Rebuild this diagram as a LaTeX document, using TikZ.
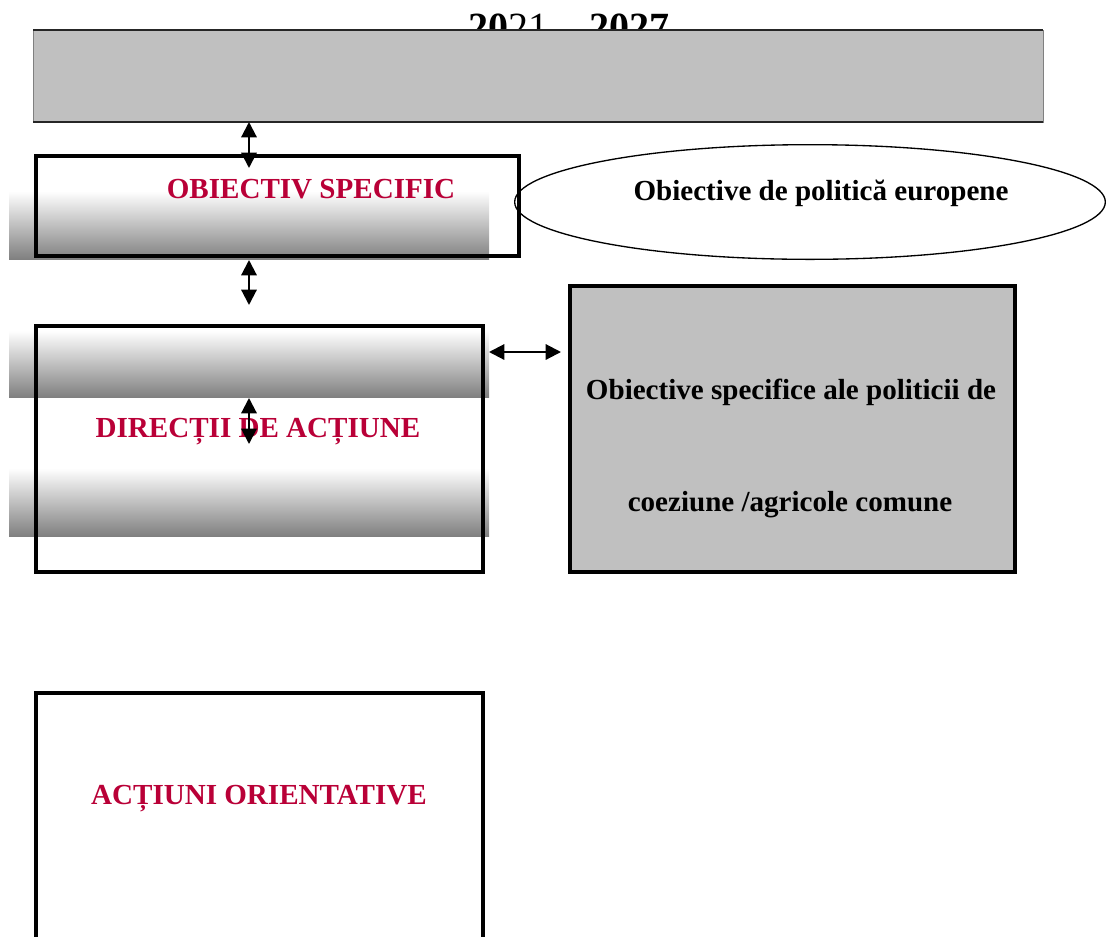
\documentclass[tikz,border=0pt]{standalone}
\usepackage{fontspec}
\setmainfont{Liberation Serif}
\usetikzlibrary{arrows.meta,fit,shapes.geometric}
\definecolor{boxgray}{RGB}{192,192,192}
\definecolor{gradgray}{RGB}{128,128,128}
\definecolor{labred}{RGB}{185,0,55}
\pgfdeclareverticalshading{boxgrad}{100bp}{color(0bp)=(gradgray); color(25bp)=(gradgray); color(64bp)=(white); color(100bp)=(white)}
\tikzset{
  outline/.style={draw=black, line width=2.3pt, inner sep=0pt, outer sep=0pt},
  graybox/.style={outline, fill=boxgray},
  lbl/.style={font=\bfseries\fontsize{21.8}{26}\selectfont, anchor=base, inner sep=0pt},
  redlbl/.style={lbl, text=labred},
  dbl/.style={{Triangle[length=11.5pt,width=11.5pt]}-{Triangle[length=11.5pt,width=11.5pt]}, line width=1.6pt},
  gradband/.style={shading=boxgrad}
}
\begin{document}
\begin{tikzpicture}[x=0.75pt,y=-0.75pt]
\useasboundingbox (0,0) rectangle (1106,936);
% title (partly hidden by the top box)
\node[anchor=base, inner sep=0pt, font=\fontsize{30}{36}\selectfont] (title) at (569,40) {\textbf{20}21 – \textbf{2027}};
% top grey box
\node[fit={(33,30) (1043,122)}, inner sep=0pt, outer sep=0pt, fill=boxgray, draw=gray, line width=0.6pt] (topbox) {};
\draw[black!85, line width=1pt] (topbox.north west) -- (topbox.north east);
\draw[black!85, line width=1.3pt] (topbox.south west) -- (topbox.south east);
% gradient bands
\shade[gradband] (9,172) rectangle (489,259);
\shade[gradband] (9,312) rectangle (489,397);
\shade[gradband] (9,449) rectangle (489,536);
% outlined boxes
\node[fit={(36,156) (519,256)}, outline] (obj) {};
\node[fit={(36,326) (483,572)}, outline] (dir) {};
\node[fit={(36,693) (483,980)}, outline] (act) {};
\node[fit={(570,286) (1015,572)}, graybox] (pol) {};
\node[ellipse, draw=black, line width=1pt, inner sep=0pt, minimum width=443pt, minimum height=86pt] (eu) at (810,202) {};
% labels
\node[redlbl] (objt) at (311,198) {OBIECTIV SPECIFIC};
\node[redlbl] (dirt) at (258,437) {DIRECȚII DE ACȚIUNE};
\node[redlbl] (actt) at (259,804) {ACȚIUNI ORIENTATIVE};
\node[lbl] (eut) at (821,200) {Obiective de politică europene};
\node[lbl] (polt1) at (791,399) {Obiective specifice ale politicii de};
\node[lbl] (polt2) at (790,511) {coeziune /agricole comune};
% connectors
\coordinate (ax) at (249,0);
\coordinate (a1e) at (249,168);
\coordinate (a2s) at (249,260);
\coordinate (a2e) at (249,305);
\coordinate (a3s) at (249,398);
\coordinate (a3e) at (249,444);
\coordinate (a4s) at (489,352);
\coordinate (a4e) at (561,352);
\draw[dbl] (topbox.south -| ax) -- (a1e);
\draw[dbl] (a2s) -- (a2e);
\draw[dbl] (a3s) -- (a3e);
\draw[dbl] (a4s) -- (a4e);
\end{tikzpicture}
\end{document}
